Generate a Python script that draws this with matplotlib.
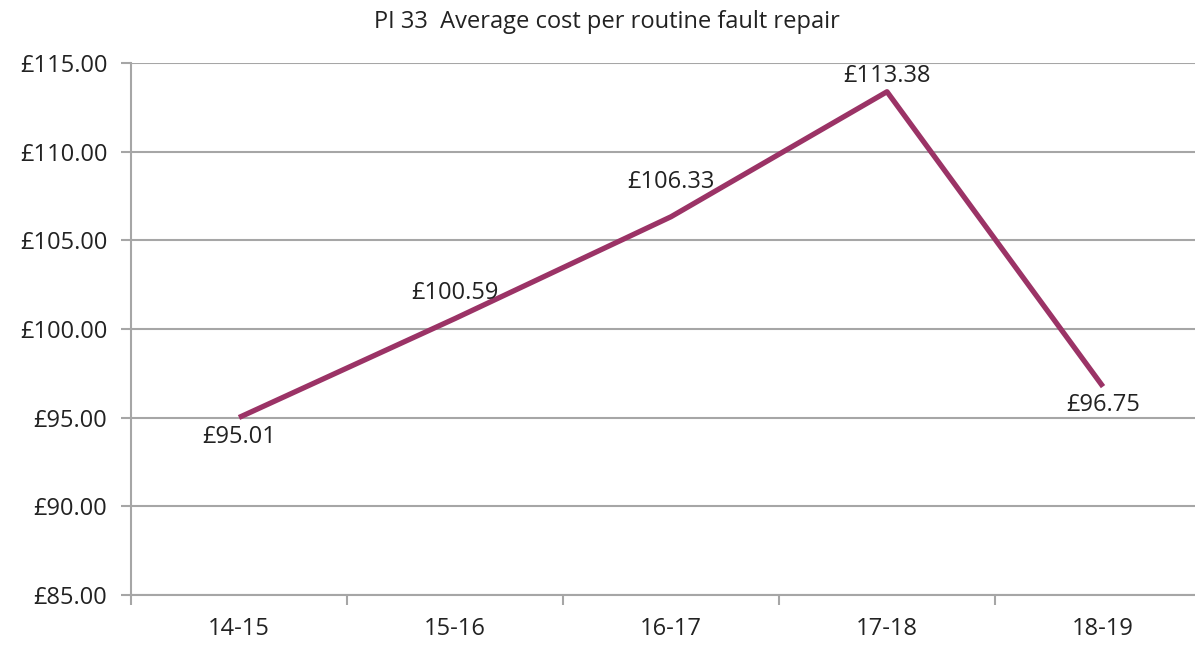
import matplotlib
matplotlib.use("Agg")
import matplotlib.pyplot as plt
from matplotlib.ticker import FixedLocator

categories = ["14-15", "15-16", "16-17", "17-18", "18-19"]
values = [95.01, 100.59, 106.33, 113.38, 96.75]
y_ticks = [85, 90, 95, 100, 105, 110, 115]

label_offsets_px = [(0, -20), (0, 26), (0, 35), (0, 16), (0, -18)]

plt.rcParams['font.family'] = ['Open Sans', 'DejaVu Sans']

fig = plt.figure(figsize=(11.95, 6.45), dpi=100)
W, H = 1195, 645
left, right, top, bottom = 131, 1211, 63, 595
ax = fig.add_axes([left / W, 1 - bottom / H, (right - left) / W, (bottom - top) / H])

x = list(range(len(categories)))
color = "#9B3366"
grid_c = "#A6A6A6"
fs = 17
ax.plot(x, values, color=color, lw=3.8, solid_capstyle='butt', zorder=3, clip_on=False)

for xi, v, (dx, dy) in zip(x, values, label_offsets_px):
    ax.annotate(f"£{v:.2f}", (xi, v), xytext=(dx, dy), textcoords='offset pixels',
                ha='center', va='center', fontsize=fs, color='#222222', zorder=4)

ax.set_xlim(-0.5, len(categories) - 0.5)
ax.set_ylim(min(y_ticks), max(y_ticks))
ax.set_yticks(y_ticks)
ax.set_yticklabels([f"£{t:.2f}" for t in y_ticks])
ax.set_xticks(x)
ax.set_xticklabels(categories)
ax.xaxis.set_minor_locator(FixedLocator([i - 0.5 for i in range(len(categories) + 1)]))

ax.tick_params(axis='x', which='major', length=0, pad=16, labelsize=fs, labelcolor='#222222')
ax.tick_params(axis='x', which='minor', length=7, width=1.5, color=grid_c)
ax.tick_params(axis='y', which='major', length=7, width=1.5, color=grid_c, pad=10,
               labelsize=fs, labelcolor='#222222')

ax.grid(axis='y', color=grid_c, lw=1.5, zorder=1)
ax.set_axisbelow(True)
for s in ['top', 'right']:
    ax.spines[s].set_visible(False)
for s in ['left', 'bottom']:
    ax.spines[s].set_color(grid_c)
    ax.spines[s].set_linewidth(1.5)

fig.text(607 / W, 1 - 22 / H, "PI 33  Average cost per routine fault repair",
         ha='center', va='center', fontsize=fs, color='#222222')

fig.savefig("out.png", dpi=100)
